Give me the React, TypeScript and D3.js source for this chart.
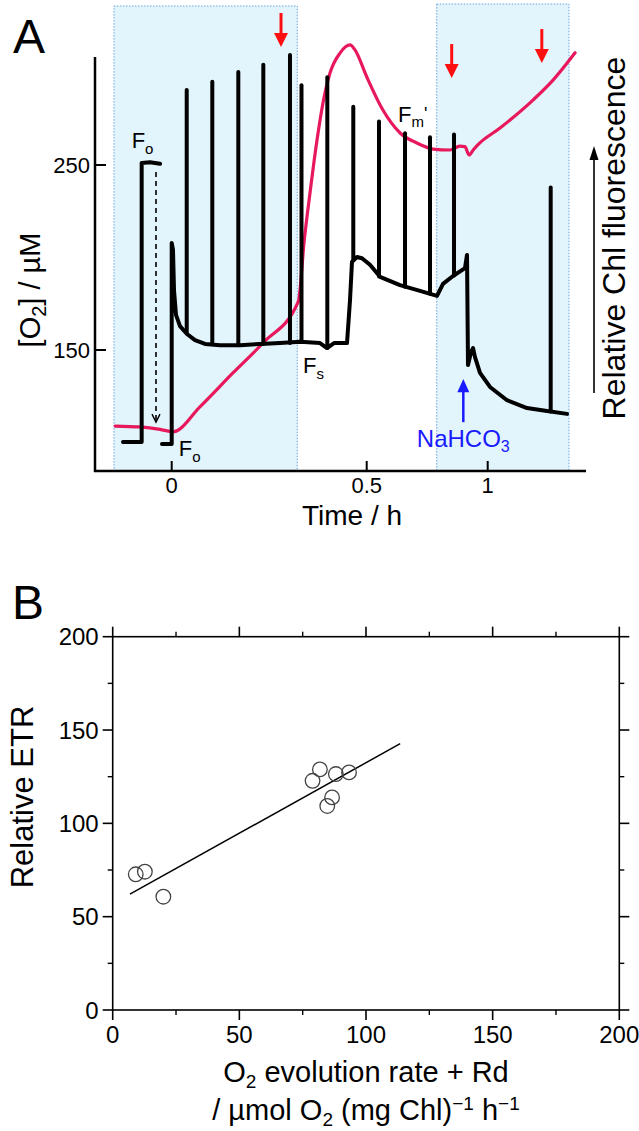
import React from 'react';
import * as d3 from 'd3';

// ---------- Panel A data ----------
const timeTicks = [0, 0.5, 1];
const timeTickLabels = ['0', '0.5', '1'];
const o2Ticks = [150, 250];

// O2 concentration trace (time h, µM)
const o2Time = [-0.145, -0.081, -0.03, 0.003, 0.073, 0.157, 0.234, 0.3246, 0.34, 0.3546, 0.3726, 0.3879, 0.4059, 0.4315, 0.4572, 0.47, 0.5, 0.567, 0.638, 0.707, 0.774, 0.844, 0.885, 0.906, 0.923, 0.94, 0.96, 1.051, 1.187, 1.27, 1.361];
const o2Values = [108.9, 108.4, 107.1, 105.8, 119.4, 137.6, 153.8, 176.1, 209.5, 234.9, 263.5, 283.5, 299.7, 310.5, 314.9, 312.2, 297.7, 279.7, 267.3, 261.9, 258.6, 258.1, 260.2, 259.9, 255.4, 258.1, 261.0, 270.0, 285.1, 295.9, 310.7];

// Chl fluorescence – dark period (relative units)
const darkTime = [-0.1249, -0.077, -0.077, -0.0556, -0.03];
const darkValues = [7.0, 7.0, 74.4, 74.6, 74.2];

// Chl fluorescence – main trace (relative units)
const fluoTime = [-0.0249, 0, 0, 0.0033, 0.0059, 0.011, 0.0213, 0.0392, 0.0597, 0.0854, 0.1238, 0.1751, 0.2264, 0.2777, 0.329, 0.3803, 0.3982, 0.4162, 0.4495, 0.4572, 0.4623, 0.4751, 0.4879, 0.5136, 0.555, 0.6376, 0.7202, 0.7905, 0.8153, 0.8566, 0.9062, 0.9145, 0.9186, 0.931, 0.9393, 0.9475, 0.9682, 1.0095, 1.0798, 1.1624, 1.245, 1.3277];
const fluoValues = [6.5, 6.5, 55.1, 53.4, 43.7, 37.7, 35.0, 33.1, 31.6, 30.7, 30.4, 30.4, 30.7, 30.9, 31.2, 30.9, 29.7, 30.9, 30.9, 41.3, 50.5, 51.7, 51.4, 49.8, 46.9, 44.9, 43.5, 42.3, 45.2, 47.1, 49.0, 52.2, 25.6, 28.7, 29.7, 27.5, 23.7, 20.3, 17.1, 15.2, 14.5, 13.8];

// Saturating flashes (Fm')
const flashTime = [0.0385, 0.1041, 0.1708, 0.2349, 0.3033, 0.3328, 0.399, 0.4656, 0.5508, 0.6583, 0.7616, 0.8608, 1.2603];
const flashTop = [92.0, 94.0, 96.4, 98.1, 100.5, 93.2, 95.1, 88.0, 84.4, 81.6, 80.6, 81.3, 68.5];
const flashBase = [33.3, 30.7, 30.4, 30.7, 30.9, 31.2, 29.7, 51.0, 47.0, 44.5, 42.8, 47.2, 14.4];

// Light periods (shaded)
const shadeStart = [-0.148, 0.7893];
const shadeEnd = [0.322, 1.336];

// Red arrows (time, O2 level of tip)
const redArrowTime = [0.2803, 0.8512, 1.2236];
const redArrowTip = [313.8, 297.0, 305.1];

// NaHCO3 addition
const bicarbTime = 0.8992;

// ---------- Panel B data ----------
const rateValues = [9.1, 12.7, 20.0, 78.9, 81.8, 88.1, 93.3, 86.6, 84.7];
const etrValues = [72.7, 74.1, 60.7, 122.8, 128.9, 126.4, 127.3, 113.9, 109.3];
const fitSlope = 0.756;
const fitIntercept = 56.9;
const fitRange = [6.8, 113.5];
const bMajorTicks = [0, 50, 100, 150, 200];
const bMinorTicks = [25, 75, 125, 175];

const FONT = "'Liberation Sans', Arial, Helvetica, sans-serif";

export default function App() {
  // Panel A scales
  const xA = d3.scaleLinear().domain([0, 0.5, 1]).range([171.7, 366.7, 487.7]);
  const yO2 = d3.scaleLinear().domain([150, 250]).range([350, 165]);
  const yF = d3.scaleLinear().domain([0, 100]).range([471, 57]);
  const aLeft = 95, aRight = 586, aTop = 57, aBottom = 471;

  const o2Line = d3.line<number>()
    .x((_, i) => xA(o2Time[i]))
    .y((d) => yO2(d))
    .curve(d3.curveMonotoneX);
  const fLine = (ts: number[]) => d3.line<number>()
    .x((_, i) => xA(ts[i]))
    .y((d) => yF(d));

  // Panel B scales
  const xB = d3.scaleLinear().domain([0, 200]).range([112.7, 619.3]);
  const yB = d3.scaleLinear().domain([0, 200]).range([1010, 636.7]);
  const bl = xB(0), br = xB(200), bt = yB(200), bb = yB(0);

  const dashX = xA(-0.0403);

  return (
    <svg width={639} height={1131} style={{ position: 'absolute', left: 0, top: 0, background: '#fff' }} fontFamily={FONT}>
      {/* ---------------- Panel A ---------------- */}
      {shadeStart.map((s, i) => (
        <rect key={'sh' + i} x={xA(s)} y={i === 0 ? 6 : 4} width={xA(shadeEnd[i]) - xA(s)} height={aBottom - (i === 0 ? 6 : 4)}
          fill="#e2f4fc" stroke="#6aa4e0" strokeWidth={1} strokeDasharray="1.5,1.5" />
      ))}

      {/* axes */}
      <line x1={aLeft} y1={aTop} x2={aLeft} y2={aBottom + 1} stroke="#000" strokeWidth={2.5} />
      <line x1={aLeft - 1} y1={aBottom} x2={aRight} y2={aBottom} stroke="#000" strokeWidth={2.5} />
      {o2Ticks.map((v) => (
        <g key={'yt' + v}>
          <line x1={aLeft} x2={aLeft + 11} y1={yO2(v)} y2={yO2(v)} stroke="#000" strokeWidth={2} />
          <text x={aLeft - 5} y={yO2(v) + 8} fontSize={22} textAnchor="end">{v}</text>
        </g>
      ))}
      {timeTicks.map((t, i) => (
        <g key={'xt' + t}>
          <line x1={xA(t)} x2={xA(t)} y1={aBottom} y2={aBottom - 10} stroke="#000" strokeWidth={2} />
          <text x={xA(t)} y={aBottom + 22} fontSize={22} textAnchor="middle">{timeTickLabels[i]}</text>
        </g>
      ))}

      {/* O2 trace */}
      <path d={o2Line(o2Values) || ''} fill="none" stroke="#e8185c" strokeWidth={3.2} strokeLinejoin="round" strokeLinecap="round" />

      {/* fluorescence */}
      <path d={fLine(darkTime)(darkValues) || ''} fill="none" stroke="#000" strokeWidth={4} strokeLinejoin="round" strokeLinecap="round" />
      <path d={fLine(fluoTime)(fluoValues) || ''} fill="none" stroke="#000" strokeWidth={4} strokeLinejoin="round" strokeLinecap="round" />
      {flashTime.map((t, i) => (
        <line key={'fl' + i} x1={xA(t)} x2={xA(t)} y1={yF(flashBase[i])} y2={yF(flashTop[i])} stroke="#000" strokeWidth={4} strokeLinecap="round" />
      ))}

      {/* dashed arrow Fo -> Fo */}
      <line x1={dashX} x2={dashX} y1={yF(72.2)} y2={yF(11.8)} stroke="#000" strokeWidth={1.6} strokeDasharray="5,4" />
      <path d={`M${dashX - 4},${yF(11.8) - 8} L${dashX},${yF(11.8)} L${dashX + 4},${yF(11.8) - 8}`} fill="none" stroke="#000" strokeWidth={1.4} />

      {/* red arrows */}
      {redArrowTime.map((t, i) => {
        const x = xA(t), tip = yO2(redArrowTip[i]);
        return (
          <g key={'ra' + i}>
            <line x1={x} x2={x} y1={tip - 34} y2={tip - 10} stroke="#ff1010" strokeWidth={3} />
            <path d={`M${x - 7},${tip - 14} L${x + 7},${tip - 14} L${x},${tip} Z`} fill="#ff1010" />
          </g>
        );
      })}

      {/* NaHCO3 arrow */}
      <line x1={xA(bicarbTime)} x2={xA(bicarbTime)} y1={yF(11.8)} y2={yF(20)} stroke="#1a1aff" strokeWidth={2.5} />
      <path d={`M${xA(bicarbTime) - 6},${yF(19)} L${xA(bicarbTime) + 6},${yF(19)} L${xA(bicarbTime)},${yF(22.2)} Z`} fill="#1a1aff" />
      <text x={xA(bicarbTime)} y={yF(5.8)} fontSize={24} textAnchor="middle" fill="#1a1aff">NaHCO<tspan dy={5} fontSize={16}>3</tspan></text>

      {/* trace labels */}
      <text x={xA(-0.077) - 10} y={yF(74.4) - 15} fontSize={22}>F<tspan dy={6} fontSize={15}>o</tspan></text>
      <text x={xA(0) + 7} y={yF(6.5) + 12} fontSize={22}>F<tspan dy={6} fontSize={15}>o</tspan></text>
      <text x={xA(0.3982) - 24} y={yF(29.7) + 25} fontSize={22}>F<tspan dy={6} fontSize={15}>s</tspan></text>
      <text x={xA(0.6583) - 7} y={yF(81.6) - 11} fontSize={22}>F<tspan dy={5} fontSize={15}>m</tspan><tspan dy={-7} fontSize={18}>'</tspan></text>

      {/* titles */}
      <text x={13} y={53} fontSize={48}>A</text>
      <text transform={`translate(40,290) rotate(-90)`} fontSize={29} textAnchor="middle">[O<tspan dy={6} fontSize={20}>2</tspan><tspan dy={-6}>] / µM</tspan></text>
      <text x={352} y={525} fontSize={28} textAnchor="middle">Time / h</text>
      <text transform={`translate(625,238) rotate(-90)`} fontSize={32} textAnchor="middle">Relative Chl fluorescence</text>
      <line x1={594} x2={594} y1={393} y2={155} stroke="#000" strokeWidth={1.6} />
      <path d="M589.5,160 L594,146 L598.5,160 Z" fill="#000" />

      {/* ---------------- Panel B ---------------- */}
      <text x={12} y={619} fontSize={48}>B</text>
      <rect x={bl} y={bt} width={br - bl} height={bb - bt} fill="none" stroke="#000" strokeWidth={1.6} />
      {bMajorTicks.map((v) => (
        <g key={'bM' + v}>
          <line x1={xB(v)} x2={xB(v)} y1={bb} y2={bb + 10} stroke="#000" strokeWidth={1.6} />
          <line x1={xB(v)} x2={xB(v)} y1={bt} y2={bt - 10} stroke="#000" strokeWidth={1.6} />
          <line x1={bl} x2={bl - 10} y1={yB(v)} y2={yB(v)} stroke="#000" strokeWidth={1.6} />
          <line x1={br} x2={br + 10} y1={yB(v)} y2={yB(v)} stroke="#000" strokeWidth={1.6} />
          <text x={xB(v)} y={bb + 33} fontSize={24} textAnchor="middle">{v}</text>
          <text x={bl - 14} y={yB(v) + 8.5} fontSize={24} textAnchor="end">{v}</text>
        </g>
      ))}
      {bMinorTicks.map((v) => (
        <g key={'bm' + v}>
          <line x1={xB(v)} x2={xB(v)} y1={bb} y2={bb + 5} stroke="#000" strokeWidth={1.4} />
          <line x1={xB(v)} x2={xB(v)} y1={bt} y2={bt - 5} stroke="#000" strokeWidth={1.4} />
          <line x1={bl} x2={bl - 5} y1={yB(v)} y2={yB(v)} stroke="#000" strokeWidth={1.4} />
          <line x1={br} x2={br + 5} y1={yB(v)} y2={yB(v)} stroke="#000" strokeWidth={1.4} />
        </g>
      ))}
      <line x1={xB(fitRange[0])} y1={yB(fitIntercept + fitSlope * fitRange[0])} x2={xB(fitRange[1])} y2={yB(fitIntercept + fitSlope * fitRange[1])} stroke="#000" strokeWidth={1.5} />
      {rateValues.map((r, i) => (
        <circle key={'pt' + i} cx={xB(r)} cy={yB(etrValues[i])} r={7.3} fill="#fff" fillOpacity={0} stroke="#444" strokeWidth={1.3} />
      ))}
      <text transform={`translate(33,797) rotate(-90)`} fontSize={31} textAnchor="middle">Relative ETR</text>
      <text x={366} y={1082} fontSize={29} textAnchor="middle">O<tspan dy={6} fontSize={19}>2</tspan><tspan dy={-6}> evolution rate + Rd</tspan></text>
      <text x={366} y={1120} fontSize={29} textAnchor="middle">/ µmol O<tspan dy={6} fontSize={19}>2</tspan><tspan dy={-6}> (mg Chl)</tspan><tspan dy={-10} fontSize={19}>−1</tspan><tspan dy={10}> h</tspan><tspan dy={-10} fontSize={19}>−1</tspan></text>
    </svg>
  );
}
